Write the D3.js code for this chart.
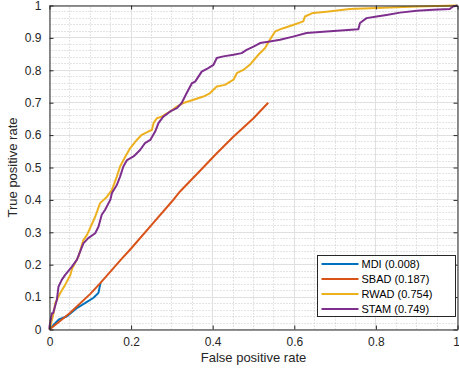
<!DOCTYPE html>
<html>
<head>
<meta charset="utf-8">
<script src="https://cdn.jsdelivr.net/npm/d3@7"></script>
<style>
  body { margin: 0; background: #fff; }
  svg { display: block; font-family: "Liberation Sans", Arial, Helvetica, sans-serif; }
</style>
</head>
<body>
<div id="chart"></div>
<script>
// ROC curves (false positive rate / true positive rate)
const mdiFpr = [0, 0.002, 0.023, 0.043, 0.068, 0.088, 0.108, 0.120, 0.125];
const mdiTpr = [0, 0.004, 0.031, 0.041, 0.067, 0.082, 0.098, 0.113, 0.144];

const sbadFpr = [0, 0.05, 0.10, 0.125, 0.174, 0.20, 0.255, 0.30, 0.32, 0.369, 0.41, 0.45, 0.50, 0.536];
const sbadTpr = [0, 0.051, 0.11, 0.144, 0.214, 0.25, 0.33, 0.395, 0.426, 0.49, 0.544, 0.594, 0.652, 0.700];

const rwadFpr = [0, 0.010, 0.014, 0.026, 0.038, 0.051, 0.056, 0.071, 0.083, 0.092, 0.112, 0.124, 0.141,
  0.153, 0.165, 0.173, 0.186, 0.198, 0.214, 0.226, 0.242, 0.251, 0.255, 0.263, 0.275, 0.296, 0.312,
  0.328, 0.353, 0.377, 0.393, 0.410, 0.430, 0.451, 0.459, 0.475, 0.491, 0.512, 0.528, 0.540, 0.553,
  0.573, 0.597, 0.622, 0.626, 0.646, 0.679, 0.736, 0.802, 0.900, 1];
const rwadTpr = [0, 0.050, 0.081, 0.112, 0.137, 0.168, 0.190, 0.225, 0.276, 0.292, 0.348, 0.390, 0.410,
  0.431, 0.472, 0.503, 0.534, 0.560, 0.585, 0.601, 0.611, 0.616, 0.637, 0.652, 0.657, 0.673, 0.688,
  0.699, 0.709, 0.719, 0.729, 0.750, 0.755, 0.771, 0.791, 0.801, 0.817, 0.848, 0.868, 0.894, 0.920,
  0.930, 0.940, 0.951, 0.966, 0.977, 0.981, 0.989, 0.992, 0.997, 1];

const stamFpr = [0, 0, 0.006, 0.009, 0.018, 0.022, 0.030, 0.038, 0.055, 0.067, 0.075, 0.083, 0.095, 0.112,
  0.120, 0.128, 0.136, 0.149, 0.153, 0.165, 0.173, 0.181, 0.190, 0.206, 0.222, 0.234, 0.247, 0.259,
  0.267, 0.279, 0.296, 0.312, 0.324, 0.336, 0.349, 0.357, 0.373, 0.389, 0.402, 0.410, 0.426, 0.451,
  0.471, 0.483, 0.500, 0.516, 0.540, 0.565, 0.597, 0.630, 0.679, 0.757, 0.761, 0.777, 0.802, 0.826,
  0.859, 0.900, 0.940, 0.981, 0.989, 1];
const stamTpr = [0, 0.009, 0.050, 0.051, 0.091, 0.132, 0.153, 0.168, 0.194, 0.215, 0.240, 0.266, 0.282, 0.297,
  0.317, 0.354, 0.369, 0.400, 0.421, 0.446, 0.472, 0.503, 0.523, 0.534, 0.554, 0.575, 0.585, 0.611,
  0.637, 0.657, 0.673, 0.683, 0.699, 0.729, 0.760, 0.765, 0.796, 0.807, 0.817, 0.838, 0.843, 0.848,
  0.853, 0.863, 0.873, 0.884, 0.889, 0.894, 0.904, 0.915, 0.920, 0.927, 0.946, 0.961, 0.966, 0.971,
  0.978, 0.984, 0.987, 0.989, 0.997, 1];

const seriesNames = ["MDI (0.008)", "SBAD (0.187)", "RWAD (0.754)", "STAM (0.749)"];
const seriesColors = ["#0072BD", "#D95319", "#EDB120", "#7E2F8E"];
const xTicks = [0, 0.2, 0.4, 0.6, 0.8, 1];
const yTicks = [0, 0.1, 0.2, 0.3, 0.4, 0.5, 0.6, 0.7, 0.8, 0.9, 1];

const series = [
  { name: seriesNames[0], color: seriesColors[0], fpr: mdiFpr, tpr: mdiTpr },
  { name: seriesNames[1], color: seriesColors[1], fpr: sbadFpr, tpr: sbadTpr },
  { name: seriesNames[2], color: seriesColors[2], fpr: rwadFpr, tpr: rwadTpr },
  { name: seriesNames[3], color: seriesColors[3], fpr: stamFpr, tpr: stamTpr }
];

const W = 459, H = 372;
const axisColor = "#262626";

const svg = d3.select("#chart").append("svg")
  .attr("width", W)
  .attr("height", H);

const x = d3.scaleLinear().domain([0, 1]).range([49.5, 457.5]);
const y = d3.scaleLinear().domain([0, 1]).range([329.5, 5.5]);

// minor grid (dotted)
const grid = svg.append("g");
grid.selectAll(".minor-x")
  .data(d3.range(0, 1.0001, 0.05))
  .enter().append("line")
  .attr("x1", d => Math.round(x(d) - 0.5) + 0.5).attr("x2", d => Math.round(x(d) - 0.5) + 0.5)
  .attr("y1", y(0)).attr("y2", y(1))
  .attr("stroke", "#c8c8c8").attr("stroke-dasharray", "1,2");
grid.selectAll(".minor-y")
  .data(d3.range(0, 1.0001, 0.02))
  .enter().append("line")
  .attr("y1", d => Math.round(y(d) - 0.5) + 0.5).attr("y2", d => Math.round(y(d) - 0.5) + 0.5)
  .attr("x1", x(0)).attr("x2", x(1))
  .attr("stroke", "#c8c8c8").attr("stroke-dasharray", "1,2");

// major grid
grid.selectAll(".major-x")
  .data(xTicks)
  .enter().append("line")
  .attr("x1", d => Math.round(x(d) - 0.5) + 0.5).attr("x2", d => Math.round(x(d) - 0.5) + 0.5)
  .attr("y1", y(0)).attr("y2", y(1))
  .attr("stroke", "#e0e0e0");
grid.selectAll(".major-y")
  .data(yTicks)
  .enter().append("line")
  .attr("y1", d => Math.round(y(d) - 0.5) + 0.5).attr("y2", d => Math.round(y(d) - 0.5) + 0.5)
  .attr("x1", x(0)).attr("x2", x(1))
  .attr("stroke", "#e0e0e0");

// curves
const line = d3.line()
  .x(d => x(d[0]))
  .y(d => y(d[1]));

svg.append("g").selectAll("path")
  .data(series)
  .enter().append("path")
  .attr("d", s => line(s.fpr.map((f, i) => [f, s.tpr[i]])))
  .attr("fill", "none")
  .attr("stroke", s => s.color)
  .attr("stroke-width", 2)
  .attr("stroke-linejoin", "round");

// axes, ticks pointing inward, box on
const fmt = d3.format("~g");

function styleAxis(g) {
  g.select(".domain").attr("stroke", axisColor);
  g.selectAll(".tick line").attr("stroke", axisColor);
  g.selectAll(".tick text").attr("fill", axisColor).style("font-size", "12px");
  g.attr("font-family", null);
}

const xAxisG = svg.append("g")
  .attr("transform", `translate(0,${y(0)})`)
  .call(d3.axisBottom(x).tickValues(xTicks).tickFormat(fmt).tickSizeInner(-4).tickSizeOuter(0).tickPadding(8))
  .call(styleAxis);
// keep the last label inside the window
xAxisG.selectAll(".tick text").filter(d => d === 1).attr("dx", "-1.5");

svg.append("g")
  .attr("transform", `translate(${x(0)},0)`)
  .call(d3.axisLeft(y).tickValues(yTicks).tickFormat(fmt).tickSizeInner(-4).tickSizeOuter(0).tickPadding(8))
  .call(styleAxis);

svg.append("g")
  .attr("transform", `translate(0,${y(1)})`)
  .call(d3.axisTop(x).tickValues(xTicks).tickFormat("").tickSizeInner(-4).tickSizeOuter(0))
  .call(styleAxis);

svg.append("g")
  .attr("transform", `translate(${x(1)},0)`)
  .call(d3.axisRight(y).tickValues(yTicks).tickFormat("").tickSizeInner(-4).tickSizeOuter(0))
  .call(styleAxis);

// axis labels
svg.append("text")
  .attr("x", (x(0) + x(1)) / 2)
  .attr("y", 362)
  .attr("text-anchor", "middle")
  .attr("fill", axisColor)
  .style("font-size", "13px")
  .text("False positive rate");

svg.append("text")
  .attr("transform", `translate(17,${(y(0) + y(1)) / 2}) rotate(-90)`)
  .attr("text-anchor", "middle")
  .attr("fill", axisColor)
  .style("font-size", "13px")
  .text("True positive rate");

// legend
const legend = svg.append("g").attr("transform", "translate(317.5,255.5)");
legend.append("rect")
  .attr("width", 138)
  .attr("height", 61)
  .attr("fill", "#fff")
  .attr("stroke", axisColor);

const rows = legend.selectAll(".row")
  .data(series)
  .enter().append("g")
  .attr("transform", (d, i) => `translate(0,${8.5 + i * 15})`);
rows.append("line")
  .attr("x1", 4).attr("x2", 41)
  .attr("stroke", d => d.color)
  .attr("stroke-width", 2);
rows.append("text")
  .attr("x", 44)
  .attr("dy", "0.35em")
  .attr("fill", "#000")
  .style("font-size", "11px")
  .text(d => d.name);
</script>
</body>
</html>
